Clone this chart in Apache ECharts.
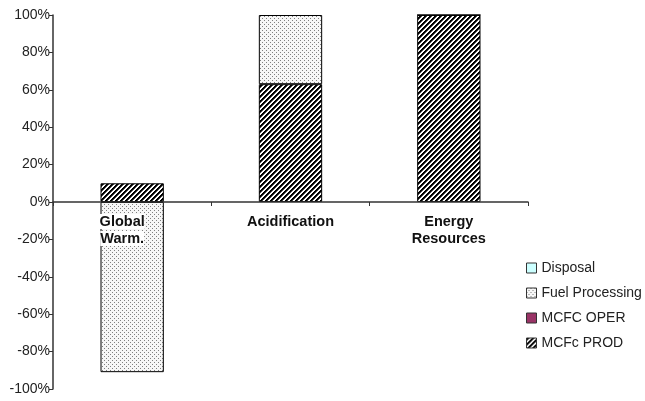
<!DOCTYPE html>
<html>
<head>
<meta charset="utf-8">
<script src="https://cdn.jsdelivr.net/npm/echarts@6/dist/echarts.min.js"></script>
<style>
  html, body { margin: 0; padding: 0; background: #fff; }
  #chart { width: 645px; height: 401px; }
</style>
</head>
<body>
<div id="chart"></div>
<script>
  const categories = ['Global\nWarm.', 'Acidification', 'Energy\nResources']
  const mcfcProd = [0.10, 0.63, 1.00]
  const mcfcOper = [0, 0, 0]
  const fuelProcessing = [-0.91, 0.37, 0]
  const disposal = [0, 0, 0]
  const yTicks = { min: -1, max: 1, step: 0.2 }

  // fill patterns, drawn pixel by pixel so they stay crisp
  function stripes() {
    const s = 5
    const c = document.createElement('canvas')
    c.width = s; c.height = s
    const g = c.getContext('2d')
    for (let x = 0; x < s; x++) {
      for (let y = 0; y < s; y++) {
        const k = (x + y) % s
        g.fillStyle = k < 2 ? '#000' : k === 2 ? '#444' : '#fff'
        g.fillRect(x, y, 1, 1)
      }
    }
    return c
  }
  function dots() {
    const c = document.createElement('canvas')
    c.width = 4; c.height = 4
    const g = c.getContext('2d')
    g.fillStyle = '#f7f7f7'
    g.fillRect(0, 0, 4, 4)
    g.fillStyle = '#808080'
    g.fillRect(0, 0, 1, 1)
    g.fillRect(2, 2, 1, 1)
    return c
  }

  const font = 'Liberation Sans, Arial, sans-serif'
  const labelFont = { fontFamily: font, fontSize: 14.5, fontWeight: 'bold', color: '#111', lineHeight: 17 }
  const chart = echarts.init(document.getElementById('chart'))
  const barItem = { type: 'bar', stack: 'total', barWidth: '40%' }

  chart.setOption({
    animation: false,
    textStyle: { fontFamily: font },
    grid: { left: 53, right: 117, top: 15, bottom: 12, containLabel: false, outerBoundsMode: 'none' },
    legend: {
      orient: 'vertical',
      left: 521,
      top: 256,
      icon: 'rect',
      itemWidth: 10,
      itemHeight: 10,
      itemGap: 11,
      data: ['Disposal', 'Fuel Processing', 'MCFC OPER', 'MCFc PROD'],
      itemStyle: { borderColor: '#333', borderWidth: 1 },
      textStyle: { fontFamily: font, fontSize: 14, color: '#222' },
    },
    xAxis: {
      type: 'category',
      z: 10,
      data: categories,
      boundaryGap: true,
      axisLine: { onZero: true, lineStyle: { color: '#333', width: 1.5 } },
      axisTick: { show: true, length: 4, lineStyle: { color: '#333' } },
      // labels sit under the zero line, not at the grid bottom
      axisLabel: {
        ...labelFont,
        margin: -176,
        hideOverlap: false,
        // first label sits on the bar with a white box, shifted left
        formatter: (v, i) => i === 0 ? v.split('\n').map(t => `{a|${t}}{s|}`).join('\n') : v,
        rich: {
          a: { ...labelFont, backgroundColor: '#fff' },
          s: { width: 20, lineHeight: 17 },
        },
      },
      splitLine: { show: false },
    },
    yAxis: {
      type: 'value',
      min: yTicks.min,
      max: yTicks.max,
      interval: yTicks.step,
      axisLine: { show: true, lineStyle: { color: '#333', width: 1.5 } },
      axisTick: { show: true, length: 4, lineStyle: { color: '#333' } },
      axisLabel: { fontFamily: font, fontSize: 14, color: '#222', margin: 3, formatter: v => Math.round(v * 100) + '%' },
      splitLine: { show: false },
    },
    series: [
      { name: 'MCFc PROD', ...barItem, data: mcfcProd,
        itemStyle: { color: { image: stripes(), repeat: 'repeat' }, borderColor: '#000', borderWidth: 1 } },
      { name: 'MCFC OPER', ...barItem, data: mcfcOper,
        itemStyle: { color: '#993366', borderColor: '#000', borderWidth: 0 } },
      { name: 'Fuel Processing', ...barItem, data: fuelProcessing,
        itemStyle: { color: { image: dots(), repeat: 'repeat' }, borderColor: '#000', borderWidth: 1 } },
      { name: 'Disposal', ...barItem, data: disposal,
        itemStyle: { color: '#ccffff', borderColor: '#000', borderWidth: 0 } },
    ],
  })
</script>
</body>
</html>
